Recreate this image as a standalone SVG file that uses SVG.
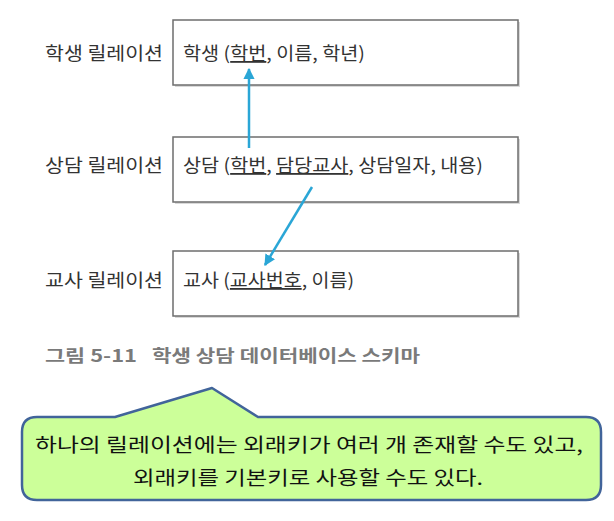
<svg xmlns="http://www.w3.org/2000/svg" width="614" height="521" viewBox="0 0 614 521">
<style>
.t{font-family:"Noto Sans CJK KR","Noto Sans",sans-serif;font-size:18px;fill:#333;}
.box{fill:#fff;stroke:#6e6e6e;stroke-width:1.5;}
.sh{fill:#d9d9d9;}
.cap{font-family:"Noto Sans CJK KR","Noto Sans",sans-serif;font-size:17px;font-weight:bold;fill:#7a7a7a;}
.co{font-family:"Noto Sans CJK KR","Noto Sans",sans-serif;font-size:19px;fill:#111;}
.u{text-decoration:underline;}
.arr{stroke:#2aa6d6;stroke-width:2.5;fill:none;}
</style>
<defs>
<marker id="ah" viewBox="0 0 10 10" refX="9" refY="5" markerWidth="4.5" markerHeight="4.5" orient="auto" markerUnits="strokeWidth">
<path d="M0,0 L10,5 L0,10 Z" fill="#2aa6d6"/>
</marker>
</defs>
<g id="student">
<text class="t" x="45" y="60" textLength="118" lengthAdjust="spacingAndGlyphs">학생 릴레이션</text>
<rect class="sh" x="175" y="22" width="345" height="65"/>
<rect class="box" x="173" y="20" width="345" height="65"/>
<text class="t" x="183" y="60" textLength="182" lengthAdjust="spacingAndGlyphs">학생 (<tspan class="u">학번</tspan>, 이름, 학년)</text>
</g>
<g id="counsel">
<text class="t" x="45" y="172" textLength="118" lengthAdjust="spacingAndGlyphs">상담 릴레이션</text>
<rect class="sh" x="175" y="139" width="345" height="65"/>
<rect class="box" x="173" y="137" width="345" height="65"/>
<text class="t" x="183" y="172" textLength="300" lengthAdjust="spacingAndGlyphs">상담 (<tspan class="u">학번</tspan>, <tspan class="u">담당교사</tspan>, 상담일자, 내용)</text>
</g>
<g id="teacher">
<text class="t" x="45" y="287" textLength="118" lengthAdjust="spacingAndGlyphs">교사 릴레이션</text>
<rect class="sh" x="175" y="253" width="345" height="65"/>
<rect class="box" x="173" y="251" width="345" height="65"/>
<text class="t" x="183" y="287" textLength="171" lengthAdjust="spacingAndGlyphs">교사 (<tspan class="u">교사번호</tspan>, 이름)</text>
</g>
<g id="connectors">
<line class="arr" x1="249" y1="148" x2="249" y2="69" marker-end="url(#ah)"/>
<line class="arr" x1="312" y1="187" x2="265" y2="265" marker-end="url(#ah)"/>
</g>
<g id="caption">
<text class="cap" x="45" y="362" textLength="92" lengthAdjust="spacingAndGlyphs">그림 5-11</text>
<text class="cap" x="152" y="362" textLength="268" lengthAdjust="spacingAndGlyphs">학생 상담 데이터베이스 스키마</text>
</g>
<g id="callout">
<path d="M37,417 L115,417 L212,388 L258,417 L586,417 Q601,417 601,432 L601,485 Q601,500 586,500 L37,500 Q22,500 22,485 L22,432 Q22,417 37,417 Z" fill="#ccff99" stroke="#41649a" stroke-width="2.5" stroke-linejoin="round"/>
<text class="co" x="35" y="452" textLength="548" lengthAdjust="spacingAndGlyphs">하나의 릴레이션에는 외래키가 여러 개 존재할 수도 있고,</text>
<text class="co" x="133" y="485" textLength="350" lengthAdjust="spacingAndGlyphs">외래키를 기본키로 사용할 수도 있다.</text>
</g>
</svg>
